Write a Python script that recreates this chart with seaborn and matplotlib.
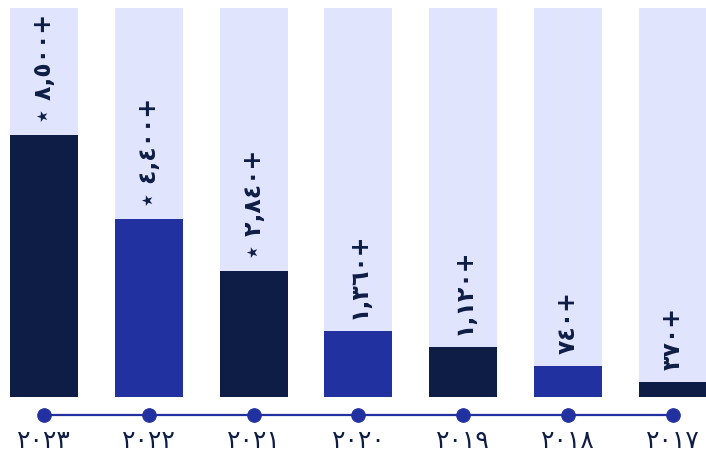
import numpy as np
import matplotlib
matplotlib.use('Agg')
import matplotlib.pyplot as plt
import seaborn as sns

# data, right-to-left timeline (newest first)
years = ['2023', '2022', '2021', '2020', '2019', '2018', '2017']
year_labels = ['٢٠٢٣', '٢٠٢٢', '٢٠٢١', '٢٠٢٠', '٢٠١٩', '٢٠١٨', '٢٠١٧']
value_labels = ['⋆ ٨,٥٠٠+', '⋆ ٤,٤٠٠+', '⋆ ٢,٨٤٠+', '١,٣٦٠+', '١,١٢٠+', '٧٤٠+', '٣٧٠+']
bar_pct = [67.4, 45.8, 32.4, 17.0, 12.9, 8.0, 3.9]  # filled share of each column
track_pct = [100] * 7

navy = '#0e1d45'
blue = '#2231a0'
light = '#e0e4fd'
bar_colors = [navy, blue, navy, blue, navy, blue, navy]

sns.set_style('white')
plt.rcParams['font.family'] = ['DejaVu Sans']

fig = plt.figure(figsize=(7.06, 4.57), dpi=100)
ax = fig.add_axes([0, 0, 1, 1])

w = 0.649
sns.barplot(x=years, y=track_pct, color=light, width=w, saturation=1,
            linewidth=0, ax=ax)
sns.barplot(x=years, y=bar_pct, hue=years, palette=bar_colors, width=w,
            saturation=1, linewidth=0, legend=False, ax=ax)

xs = np.arange(len(years))
# value labels, rotated, sitting on top of each filled bar
for x, h, lab in zip(xs, bar_pct, value_labels):
    ax.text(x, h + 3.0, lab, rotation=90, ha='center', va='bottom',
            fontsize=17, fontweight='bold', color=navy)

# timeline under the bars
ax.plot([xs[0], xs[-1]], [-4.5, -4.5], color=blue, lw=1.6, zorder=2)
sns.scatterplot(x=xs, y=[-4.5] * len(xs), color=blue, s=95, edgecolor=blue,
                zorder=3, ax=ax)
for x, lab in zip(xs, year_labels):
    ax.text(x, -11.2, lab, ha='center', va='center', fontsize=18,
            color=navy)

ax.set_xlim(-0.42, 6.317)
ax.set_ylim(-15.42, 102.06)
ax.axis('off')

fig.savefig('out.png', dpi=100)
